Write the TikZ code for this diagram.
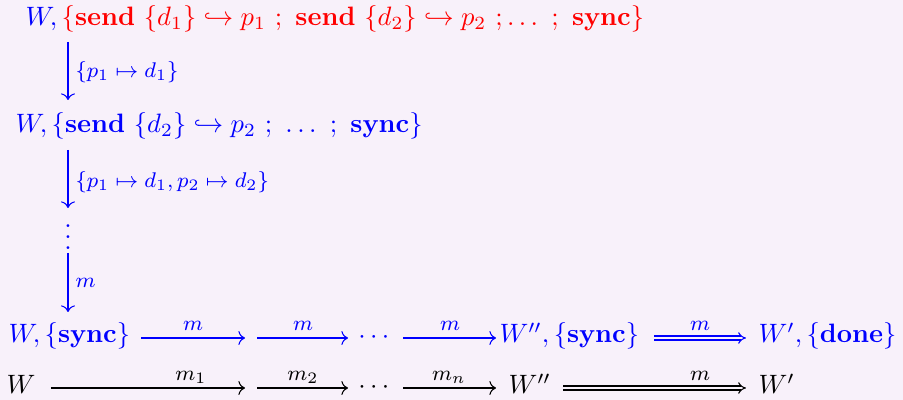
\documentclass[tikz,border=0pt]{standalone}
\usepackage{amsmath,amssymb}
\usetikzlibrary{arrows.meta}
\definecolor{bg}{RGB}{248,241,250}
\begin{document}
\begin{tikzpicture}[x=0.376pt,y=-0.376pt,
  txt/.style={inner sep=0pt,anchor=base west},
  lbl/.style={inner sep=0pt,font=\fontsize{8.2}{10}\selectfont},
  arr/.style={-To},
  darr/.style={double distance=1.1pt,-Implies}]
\fill[bg] (0,0) rectangle (903,400);
\useasboundingbox (0,0) rectangle (903,400);
% line 1
\node[txt] (l1) at (25,26) {$\color{blue}W,\color{red}\{\mathbf{send}\ \{d_1\}\hookrightarrow p_1\ ;\ \mathbf{send}\ \{d_2\}\hookrightarrow p_2\ ;\ldots\ ;\ \mathbf{sync}\}$};
% line 2
\node[txt,blue] (l2) at (15,133) {$W,\{\mathbf{send}\ \{d_2\}\hookrightarrow p_2\ ;\ \ldots\ ;\ \mathbf{sync}\}$};
% vertical arrows
\coordinate (v1a) at (68,42); \coordinate (v1b) at (68,100);
\draw[arr,blue] (v1a) -- (v1b);
\node[lbl,blue,anchor=west] (lab1) at (75,72) {$\{p_1\mapsto d_1\}$};
\coordinate (v2a) at (68,150); \coordinate (v2b) at (68,208);
\draw[arr,blue] (v2a) -- (v2b);
\node[lbl,blue,anchor=west] (lab2) at (75,182) {$\{p_1\mapsto d_1,p_2\mapsto d_2\}$};
\node[blue,inner sep=0pt] (vd) at (68,229) {$\vdots$};
\coordinate (v3a) at (68,253); \coordinate (v3b) at (68,312);
\draw[arr,blue] (v3a) -- (v3b);
\node[lbl,blue,anchor=west] (lab3) at (75,283) {$m$};
% row 3
\node[txt,blue] (r3a) at (8,343) {$W,\{\mathbf{sync}\}$};
\coordinate (r3s1) at (141,338); \coordinate (r3e1) at (245,338);
\coordinate (r3s2) at (257,338); \coordinate (r3e2) at (348,338);
\node[blue,inner sep=0pt] (r3d) at (376,338) {$\cdots$};
\coordinate (r3s3) at (403,338); \coordinate (r3e3) at (496,338);
\draw[arr,blue] (r3s1) -- (r3e1);
\draw[arr,blue] (r3s2) -- (r3e2);
\draw[arr,blue] (r3s3) -- (r3e3);
\node[lbl,blue,anchor=base] (r3l1) at (193,331) {$m$};
\node[lbl,blue,anchor=base] (r3l2) at (303,331) {$m$};
\node[lbl,blue,anchor=base] (r3l3) at (450,331) {$m$};
\node[txt,blue] (r3b) at (499,343) {$W'',\{\mathbf{sync}\}$};
\coordinate (r3s4) at (654,338); \coordinate (r3e4) at (746,338);
\draw[darr,blue,double=bg] (r3s4) -- (r3e4);
\node[lbl,blue,anchor=base] (r3l4) at (700,331) {$m$};
\node[txt,blue] (r3c) at (758,343) {$W',\{\mathbf{done}\}$};
% row 4
\node[txt] (r4a) at (6,394) {$W$};
\coordinate (r4s1) at (51,388); \coordinate (r4e1) at (245,388);
\coordinate (r4s2) at (257,388); \coordinate (r4e2) at (348,388);
\node[inner sep=0pt] (r4d) at (376,388) {$\cdots$};
\coordinate (r4s3) at (403,388); \coordinate (r4e3) at (496,388);
\draw[arr] (r4s1) -- (r4e1);
\draw[arr] (r4s2) -- (r4e2);
\draw[arr] (r4s3) -- (r4e3);
\node[lbl,anchor=base] (r4l1) at (191,381) {$m_1$};
\node[lbl,anchor=base] (r4l2) at (303,381) {$m_2$};
\node[lbl,anchor=base] (r4l3) at (449,381) {$m_n$};
\node[txt] (r4b) at (508,394) {$W''$};
\coordinate (r4s4) at (563,388); \coordinate (r4e4) at (746,388);
\draw[darr,double=bg] (r4s4) -- (r4e4);
\node[lbl,anchor=base] (r4l4) at (700,381) {$m$};
\node[txt] (r4c) at (758,394) {$W'$};
\end{tikzpicture}
\end{document}
